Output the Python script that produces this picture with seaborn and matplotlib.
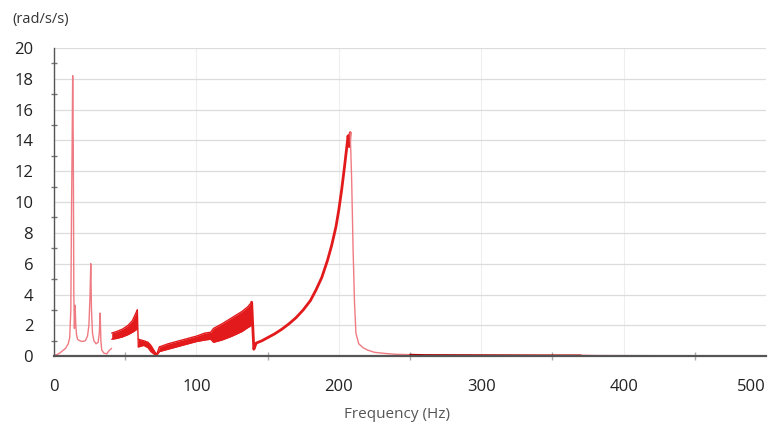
import numpy as np
import matplotlib
matplotlib.use("Agg")
import matplotlib.pyplot as plt
from matplotlib.ticker import MultipleLocator
import seaborn as sns

# low-frequency spikes (thin trace)
spike_f = [0, 2, 4, 6, 8, 10, 11, 11.8, 12.3, 12.7, 13.1, 13.5, 13.9, 14.3, 14.8,
           15.3, 15.8, 16.5, 18, 20, 22, 23.5, 24.5, 25.3, 25.8, 26.3, 27, 28,
           29.5, 31, 31.8, 32.4, 32.9, 33.5, 35, 37, 39, 40.4]
spike_a = [0.05, 0.1, 0.2, 0.35, 0.5, 0.8, 1.2, 3.0, 9.7, 13.5, 18.2, 14.0, 4.0,
           1.8, 3.3, 2.0, 1.4, 1.1, 1.0, 0.95, 1.0, 1.3, 2.0, 4.0, 6.0, 3.0, 1.5,
           1.0, 0.8, 0.9, 1.5, 2.8, 1.0, 0.4, 0.2, 0.15, 0.4, 0.5]

# oscillating bands (lower / upper envelope)
band1_f = [40.5, 44, 48, 52, 55, 57.5, 58.5]
band1_lo = [1.1, 1.15, 1.25, 1.4, 1.55, 1.7, 1.8]
band1_hi = [1.5, 1.6, 1.75, 2.0, 2.3, 2.8, 3.0]

band_mid_f = [59.2, 61, 63, 66, 68, 70, 72, 74]
band_mid_lo = [0.6, 0.65, 0.7, 0.55, 0.3, 0.15, 0.05, 0.3]
band_mid_hi = [1.1, 1.05, 1.0, 0.9, 0.7, 0.4, 0.1, 0.6]

band2_f = [74, 80, 90, 100, 106, 110, 112, 118, 125, 132, 136, 138.8]
band2_lo = [0.3, 0.45, 0.7, 0.95, 1.05, 1.1, 0.9, 1.05, 1.3, 1.6, 1.85, 2.0]
band2_hi = [0.6, 0.8, 1.05, 1.3, 1.5, 1.55, 1.8, 2.1, 2.5, 2.9, 3.2, 3.5]

# main resonance (thick trace)
res_f = [138.8, 140.3, 142, 146, 150, 155, 160, 165, 170, 175, 180, 184, 188,
         192, 195, 198, 200, 202, 204, 205.5, 206.5, 207.3, 208]
res_a = [3.5, 0.45, 0.85, 1.0, 1.2, 1.45, 1.75, 2.1, 2.5, 3.0, 3.6, 4.3, 5.1,
         6.2, 7.2, 8.4, 9.5, 10.8, 12.3, 13.5, 14.3, 13.6, 14.5]

# decay after resonance (thin trace)
tail_f = [208, 209, 210, 211, 212, 214, 217, 220, 225, 232, 240, 250]
tail_a = [14.5, 11.5, 7.0, 3.5, 1.5, 0.8, 0.55, 0.4, 0.25, 0.18, 0.12, 0.1]

floor_f = [250, 260, 300, 340, 370]
floor_a = [0.1, 0.08, 0.07, 0.06, 0.06]

end_f = [370, 380, 420, 460, 500]
end_a = [0.06, 0.04, 0.03, 0.03, 0.03]

x_ticks = [0, 100, 200, 300, 400, 500]
x_labels = ["0", "100", "200", "300", "400", "500"]

sns.set_style("white")
plt.rcParams["font.family"] = ["Open Sans", "DejaVu Sans"]

fig = plt.figure(figsize=(7.74, 4.24), dpi=100)
ax = fig.add_axes([0.0698, 0.160, 0.9199, 0.727])

red = "#e31a1c"
pink = "#ef7b82"

sns.lineplot(x=spike_f, y=spike_a, ax=ax, color=pink, lw=1.0)
for bf, lo, hi in [(band1_f, band1_lo, band1_hi),
                   (band_mid_f, band_mid_lo, band_mid_hi),
                   (band2_f, band2_lo, band2_hi)]:
    ax.fill_between(bf, lo, hi, color=red, lw=0)
    sns.lineplot(x=bf, y=lo, ax=ax, color=red, lw=1.0)
    sns.lineplot(x=bf, y=hi, ax=ax, color=red, lw=1.0)
# jump between the first two bands
ax.plot([band1_f[-1], band_mid_f[0]], [band1_hi[-1], band_mid_lo[0]], color=red, lw=1.0)
sns.lineplot(x=res_f, y=res_a, ax=ax, color=red, lw=2.0)
sns.lineplot(x=tail_f, y=tail_a, ax=ax, color=pink, lw=1.0)
sns.lineplot(x=floor_f, y=floor_a, ax=ax, color="#b00000", lw=1.2)
sns.lineplot(x=end_f, y=end_a, ax=ax, color=pink, lw=1.0)

ax.set_xlim(0, 500)
ax.set_ylim(0, 20)
ax.set_xticks(x_ticks)
ax.set_xticklabels(x_labels)
ax.xaxis.set_minor_locator(MultipleLocator(50))
ax.yaxis.set_major_locator(MultipleLocator(2))
ax.yaxis.set_minor_locator(MultipleLocator(1))

ax.grid(True, which="major", axis="y", color="#dcdcdc", lw=0.9)
ax.grid(True, which="major", axis="x", color="#eeeeee", lw=0.8)
ax.set_axisbelow(True)

for s in ["top", "right"]:
    ax.spines[s].set_visible(False)
ax.spines["left"].set_color("#555555")
ax.spines["left"].set_linewidth(1.0)
ax.spines["bottom"].set_color("#555555")
ax.spines["bottom"].set_linewidth(1.6)

ax.tick_params(axis="y", which="major", direction="inout", length=6, width=1,
               color="#555555", labelsize=12, pad=12, labelcolor="#222222")
ax.tick_params(axis="y", which="minor", direction="inout", length=5, width=1,
               color="#777777", left=True)
ax.tick_params(axis="x", which="major", direction="inout", length=7, width=1,
               color="#888888", labelsize=12, pad=13, labelcolor="#222222")
ax.tick_params(axis="x", which="minor", direction="inout", length=6, width=1,
               color="#aaaaaa", bottom=True)

for lab in ax.get_xticklabels():
    if lab.get_text() == "500":
        lab.set_horizontalalignment("right")

ax.set_xlabel("Frequency (Hz)", fontsize=11, color="#555555")
ax.xaxis.set_label_coords(0.482, -0.165)
fig.text(0.016, 0.955, "(rad/s/s)", fontsize=10.5, color="#333333", va="center")

fig.savefig("out.png", dpi=100)
